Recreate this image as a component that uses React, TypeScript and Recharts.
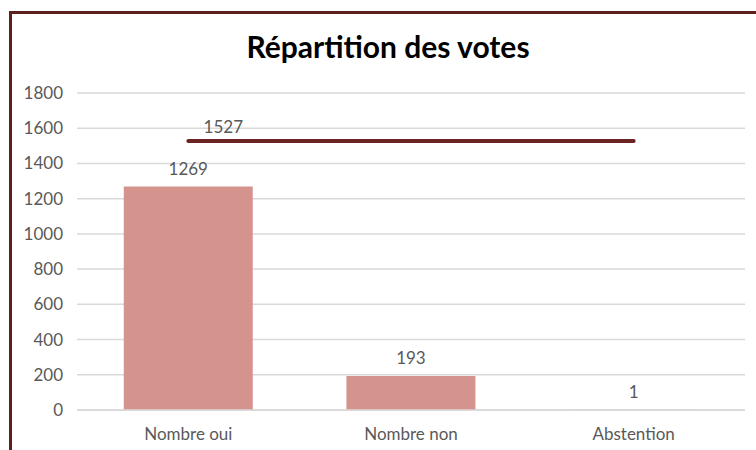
import { ComposedChart, Bar, Line, XAxis, YAxis, CartesianGrid, LabelList } from "recharts";

const categories = ["Nombre oui", "Nombre non", "Abstention"];
const votes = [1269, 193, 1];
const totalVotes = [1527, 1527, 1527];
const yTicks = [0, 200, 400, 600, 800, 1000, 1200, 1400, 1600, 1800];

const data = categories.map((name, i) => ({ name, votes: votes[i], total: totalVotes[i] }));

const FONT = "Lato, 'Open Sans', sans-serif";
const TEXT = "#595959";

// only the first point of the total line carries its label, shifted to the right
const TotalLabel = (props: any) => {
  const { x, y, index, value } = props;
  if (index !== 0) return null;
  return (
    <text x={x + 35} y={y - 14} dy={6} textAnchor="middle" fill={TEXT} fontSize={17} fontFamily={FONT}>
      {value}
    </text>
  );
};

export default function App() {
  return (
    <div style={{ position: "absolute", left: 0, top: 0, width: 756, height: 450, overflow: "hidden", background: "#fff" }}>
      <div
        style={{
          position: "absolute",
          left: 9,
          top: 11,
          width: 800,
          height: 500,
          border: "3px solid #5E1F1F",
          boxSizing: "border-box",
        }}
      />
      <div
        style={{
          position: "absolute",
          left: 0,
          width: 776,
          top: 28,
          textAlign: "center",
          fontFamily: FONT,
          fontWeight: 700,
          fontSize: 30,
          color: "#000",
          lineHeight: "36px",
        }}
      >
        Répartition des votes
      </div>
      <div style={{ position: "absolute", left: 0, top: 0 }}>
        <ComposedChart width={756} height={450} data={data} barCategoryGap="21%" margin={{ top: 93, right: 11, left: 0, bottom: 10 }}>
          <CartesianGrid vertical={false} stroke="#D9D9D9" strokeWidth={1.5} />
          <XAxis
            dataKey="name"
            axisLine={{ stroke: "#D9D9D9", strokeWidth: 1.5 }}
            tickLine={false}
            tick={{ fill: TEXT, fontSize: 17, fontFamily: FONT }}
            tickMargin={12}
            height={30}
          />
          <YAxis
            domain={[0, 1800]}
            ticks={yTicks}
            width={77}
            axisLine={false}
            tickLine={false}
            tickMargin={8}
            tick={{ fill: TEXT, fontSize: 17, fontFamily: FONT }}
          />
          <Bar dataKey="votes" fill="#D5938E" isAnimationActive={false}>
            <LabelList dataKey="votes" position="top" offset={12} fill={TEXT} fontSize={17} fontFamily={FONT} />
          </Bar>
          <Line
            dataKey="total"
            type="linear"
            stroke="#6B2424"
            strokeWidth={4}
            strokeLinecap="round"
            dot={false}
            activeDot={false}
            isAnimationActive={false}
          >
            <LabelList dataKey="total" content={TotalLabel} />
          </Line>
        </ComposedChart>
      </div>
    </div>
  );
}
